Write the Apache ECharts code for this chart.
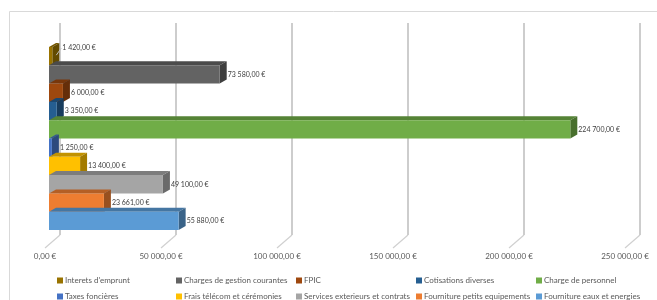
<!DOCTYPE html>
<html>
<head>
<meta charset="utf-8">
<script src="https://cdn.jsdelivr.net/npm/echarts@6/dist/echarts.min.js"></script>
<style>
html, body { margin: 0; padding: 0; background: #fff; }
#chart { width: 657px; height: 300px; }
</style>
</head>
<body>
<div id="chart"></div>
<script>
// bars from top to bottom
var seriesNames = ["Interets d'emprunt", 'Charges de gestion courantes', 'FPIC', 'Cotisations diverses', 'Charge de personnel',
    'Taxes foncières', 'Frais télécom et cérémonies', 'Services exterieurs et contrats', 'Fourniture petits equipements', 'Fourniture eaux et energies'];
var seriesValues = [1420, 73580, 6000, 3350, 224700, 1250, 13400, 49100, 23661, 55880];
var seriesColors = ['#997300', '#636363', '#9E480E', '#255E91', '#70AD47', '#4472C4', '#FFC000', '#A5A5A5', '#ED7D31', '#5B9BD5'];
var xTicks = [0, 50000, 100000, 150000, 200000, 250000];

var FONT = 'Lato';

function fmt(v) {
    var parts = v.toFixed(2).split('.');
    var ent = parts[0].replace(/\B(?=(\d{3})+(?!\d))/g, ' ');
    return ent + ',' + parts[1] + ' €';
}

function darken(hex, f) {
    var n = parseInt(hex.slice(1), 16);
    var r = Math.round(((n >> 16) & 255) * f);
    var g = Math.round(((n >> 8) & 255) * f);
    var b = Math.round((n & 255) * f);
    return 'rgb(' + r + ',' + g + ',' + b + ')';
}

var chart = echarts.init(document.getElementById('chart'));

// petite barre 3D : face avant + dessus + côté
function makeBar(color) {
    return function (params, api) {
        var idx = api.value(1);
        var p0 = api.coord([0, idx]);
        var p1 = api.coord([api.value(0), idx]);
        var h = api.size([0, 1])[1];
        var top = p0[1] - h / 2, bot = p0[1] + h / 2;
        var dx = 7, dy = -4;
        var x0 = p0[0], x1 = p1[0];
        var children = [
            {
                type: 'polygon',
                shape: { points: [[x0, top], [x1, top], [x1 + dx, top + dy], [x0 + dx, top + dy]] },
                style: { fill: darken(color, 0.76) }
            },
            {
                type: 'polygon',
                shape: { points: [[x1, top], [x1 + dx, top + dy], [x1 + dx, bot + dy], [x1, bot]] },
                style: { fill: darken(color, 0.64) }
            },
            {
                type: 'rect',
                shape: { x: x0, y: top, width: x1 - x0, height: h },
                style: { fill: color }
            }
        ];
        var lx = x1 + dx + 1, ly = p0[1];
        if (idx === 0) {
            // étiquette décalée avec trait de rappel
            lx = x1 + dx + 3;
            ly = p0[1] - 8;
            children.push({
                type: 'line',
                shape: { x1: x1 + 4, y1: p0[1] - 1, x2: lx - 1, y2: ly },
                style: { stroke: '#bfbfbf', lineWidth: 1 }
            });
        }
        children.push({
            type: 'text',
            x: lx, y: ly,
            style: { text: fmt(api.value(0)), fontSize: 7, fontFamily: FONT, fill: '#404040', verticalAlign: 'middle', align: 'left' }
        });
        return { type: 'group', children: children };
    };
}

var series = seriesNames.map(function (name, i) {
    return {
        name: name,
        type: 'custom',
        xAxisIndex: 1,
        yAxisIndex: 1,
        clip: false,
        itemStyle: { color: seriesColors[i] },
        renderItem: makeBar(seriesColors[i]),
        data: [[seriesValues[i], i]]
    };
});

// traits du plancher
series.unshift({
    type: 'custom',
    xAxisIndex: 0,
    yAxisIndex: 0,
    clip: false,
    silent: true,
    renderItem: function (params, api) {
        var p = api.coord([api.value(0), 0]);
        return {
            type: 'line',
            shape: { x1: p[0], y1: p[1], x2: p[0] - 15, y2: p[1] + 13 },
            style: { stroke: '#d0d0d0', lineWidth: 1.2 }
        };
    },
    data: xTicks.map(function (v) { return [v, 0]; })
});

var legendCols = [52, 171, 291, 411, 531];
var legends = legendCols.map(function (left, c) {
    return {
        orient: 'vertical',
        left: left,
        top: 270,
        height: 40,
        itemWidth: 6,
        itemHeight: 6,
        itemGap: 5,
        icon: 'rect',
        selectedMode: false,
        data: [seriesNames[c], seriesNames[c + 5]],
        textStyle: { fontSize: 8, fontFamily: FONT, color: '#595959', lineHeight: 11, padding: [0, 0, 0, -3] }
    };
});

chart.setOption({
    animation: false,
    textStyle: { fontFamily: FONT },
    graphic: [{
        type: 'rect',
        shape: { x: 9.5, y: 11.5, width: 700, height: 400 },
        style: { fill: 'none', stroke: '#d9d9d9', lineWidth: 1 },
        silent: true
    }],
    legend: legends,
    grid: [
        { left: 60, right: 17, top: 23, bottom: 65 },
        { left: 49, right: 28, top: 47, bottom: 70 }
    ],
    xAxis: [
        {
            gridIndex: 0, type: 'value', min: 0, max: 250000, interval: 50000,
            axisLine: { show: false }, axisTick: { show: false },
            splitLine: { lineStyle: { color: '#bdbdbd', width: 1.5 } },
            axisLabel: { fontSize: 8, color: '#595959', margin: 17, padding: [0, 30, 0, 0], formatter: fmt }
        },
        { gridIndex: 1, type: 'value', min: 0, max: 250000, show: false }
    ],
    yAxis: [
        { gridIndex: 0, type: 'value', min: 0, max: 1, show: false },
        { gridIndex: 1, type: 'category', inverse: true, data: seriesNames, show: false }
    ],
    series: series
});
</script>
</body>
</html>
